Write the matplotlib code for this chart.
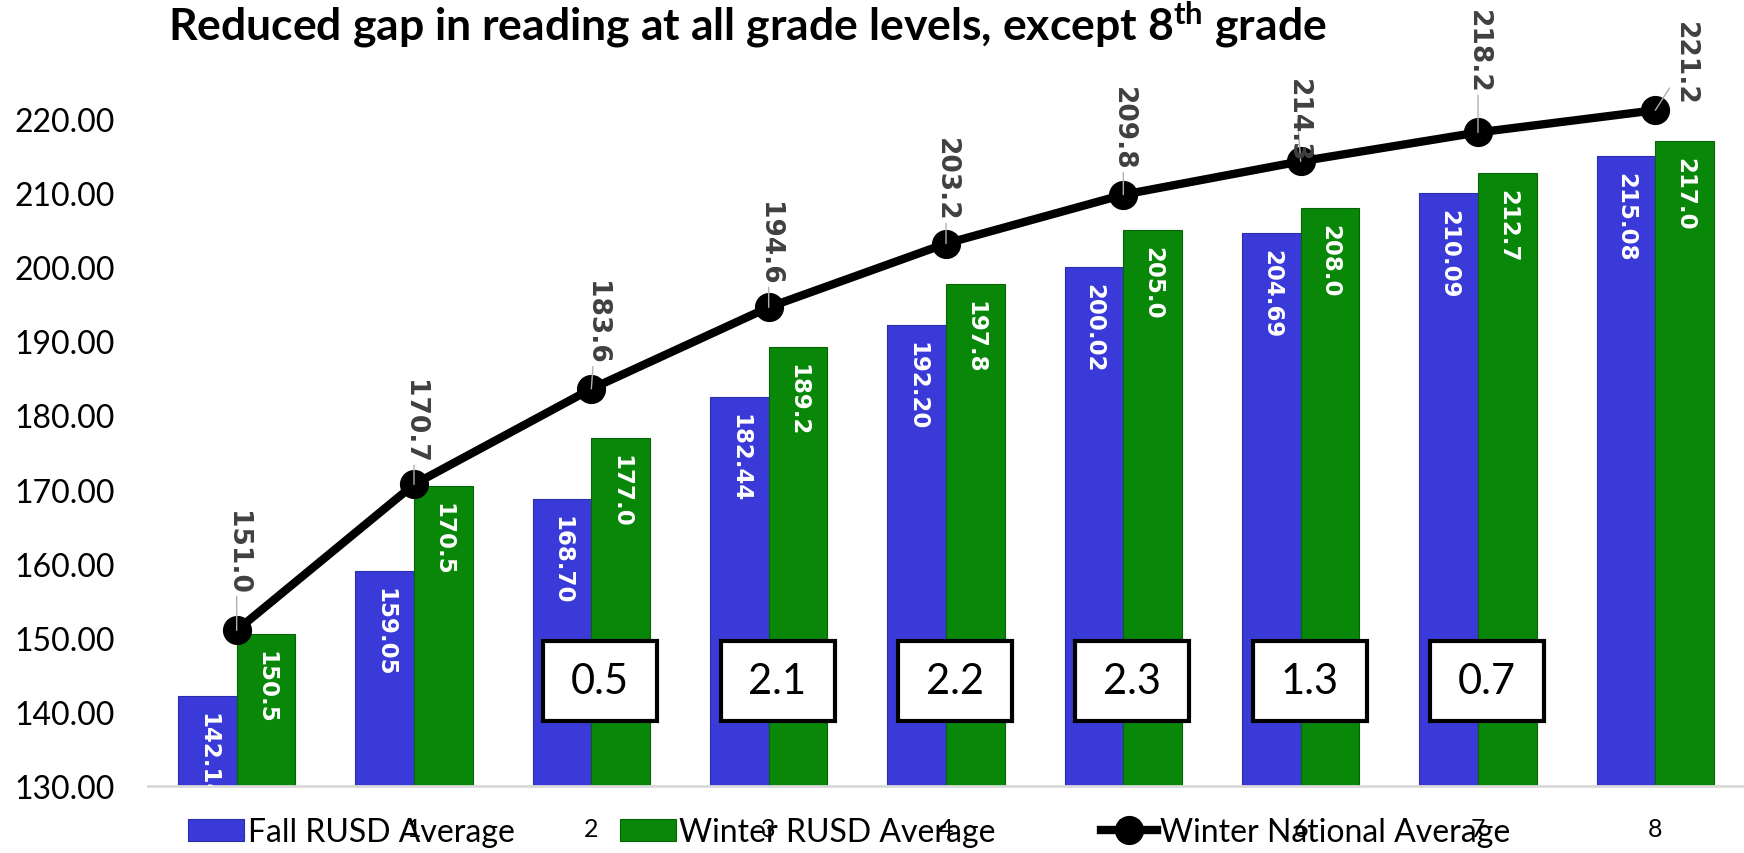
import matplotlib.pyplot as plt
from matplotlib.patches import Rectangle

grades = ['K', '1', '2', '3', '4', '5', '6', '7', '8']
fall_rusd = [142.14, 159.05, 168.70, 182.44, 192.20, 200.02, 204.69, 210.09, 215.08]
winter_rusd = [150.5, 170.5, 177.0, 189.2, 197.8, 205.0, 208.0, 212.7, 217.0]
winter_national = [151.0, 170.7, 183.6, 194.6, 203.2, 209.8, 214.3, 218.2, 221.2]

# gap reduction boxes (grade index, value)
gap_idx = [2, 3, 4, 5, 6, 7]
gap_vals = [0.5, 2.1, 2.2, 2.3, 1.3, 0.7]

# where excel put the line labels, pixels from the point
lab_off = [(0, 37), (0, 22), (5, 25), (0, 23), (0, 23), (0, 25), (-3, 0), (0, 40), (30, 5)]

blue = '#3a3ad8'
green = '#088708'
W, H = 1744, 854

plt.rcParams['font.family'] = ['Lato', 'DejaVu Sans']
plt.rcParams['mathtext.fontset'] = 'custom'
plt.rcParams['mathtext.rm'] = 'Lato:bold'

fig = plt.figure(figsize=(W / 100, H / 100), dpi=100)
ax = fig.add_axes([148 / W, 67 / H, 1 - 148 / W, (787 - 46) / H])

x = list(range(len(grades)))
bw = 0.33
xb = [i - bw / 2 for i in x]
xg = [i + bw / 2 for i in x]

b1 = ax.bar(xb, fall_rusd, bw, color=blue, edgecolor='#2c2ca8', linewidth=0.8,
            label='Fall RUSD Average', zorder=2)
b2 = ax.bar(xg, winter_rusd, bw, color=green, edgecolor='#066406', linewidth=0.8,
            label='Winter RUSD Average', zorder=2)
ln, = ax.plot(x, winter_national, color='black', lw=6, marker='o', markersize=20,
              label='Winter National Average', zorder=4)

for xi, v in zip(xb, fall_rusd):
    ax.annotate(f'{v:.2f}', (xi, v), xytext=(0, -16), textcoords='offset pixels',
                rotation=270, ha='center', va='top', color='white', fontsize=16.5,
                fontweight='bold', family='DejaVu Sans', clip_on=True, zorder=3)
for xi, v in zip(xg, winter_rusd):
    ax.annotate(f'{v:.1f}', (xi, v), xytext=(0, -16), textcoords='offset pixels',
                rotation=270, ha='center', va='top', color='white', fontsize=16.5,
                fontweight='bold', family='DejaVu Sans', clip_on=True, zorder=3)

for xi, v, (dx, dy) in zip(x, winter_national, lab_off):
    ax.annotate(f'{v:.1f}', (xi, v), xytext=(dx, dy), textcoords='offset pixels',
                rotation=270, ha='center', va='bottom', color='#404040', fontsize=19,
                fontweight='bold', family='DejaVu Sans', zorder=5,
                arrowprops=dict(arrowstyle='-', color='#b0b0b0', lw=1,
                                shrinkA=0, shrinkB=0))

for gi, gv in zip(gap_idx, gap_vals):
    cx = gi + 0.05
    ax.add_patch(Rectangle((cx - 0.3215, 144.2 - 5.4), 0.643, 10.8, facecolor='white',
                           edgecolor='black', lw=3, zorder=6))
    ax.text(cx, 144.2, f'{gv:.1f}', ha='center', va='center', fontsize=30, zorder=7)

ax.set_xlim(-0.5, 8.5)
ax.set_ylim(130, 230)
ax.set_yticks(range(130, 230, 10))
ax.set_yticklabels([f'{t:.2f}' for t in range(130, 230, 10)])
ax.set_xticks(x)
ax.set_xticklabels(grades)
ax.tick_params(axis='y', length=0, labelsize=23, pad=24)
ax.tick_params(axis='x', length=0, labelsize=18, pad=22)
for s in ['top', 'right', 'left']:
    ax.spines[s].set_visible(False)
ax.spines['bottom'].set_color('#d9d9d9')
ax.spines['bottom'].set_linewidth(2)

fig.text(168 / W, 1 - 40 / H, r'Reduced gap in reading at all grade levels, except 8$^{\mathrm{th}}$ grade',
         ha='left', va='baseline', fontsize=32, fontweight='bold')

fig.legend([b1, b2, ln], ['Fall RUSD Average', 'Winter RUSD Average', 'Winter National Average'],
           loc='center', bbox_to_anchor=(0.487, 0.0246), ncol=3, frameon=False,
           fontsize=23, handlelength=1.75, handletextpad=0.1, columnspacing=3.3)

fig.savefig('out.png', dpi=100)
